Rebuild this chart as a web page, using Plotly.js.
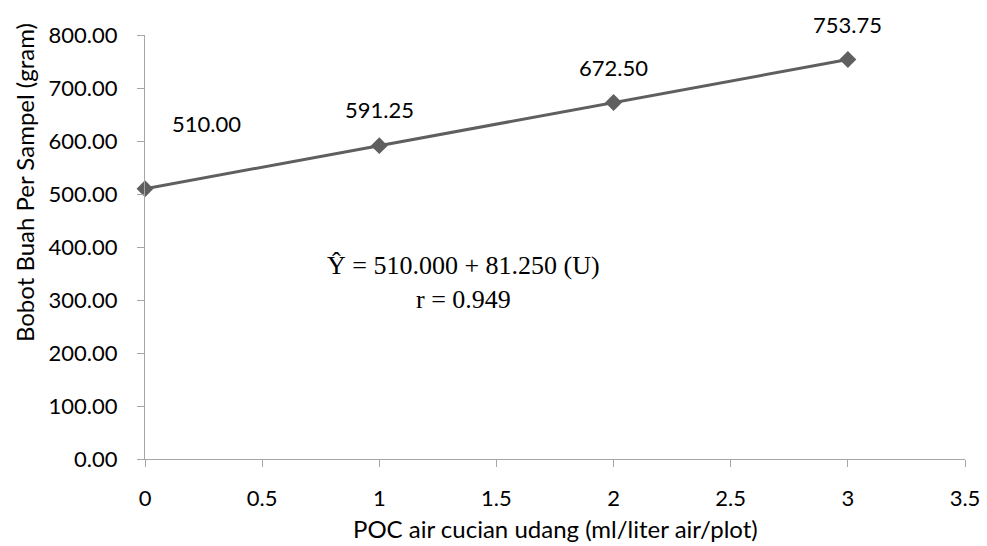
<!DOCTYPE html>
<html>
<head>
<meta charset="utf-8">
<script src="https://cdn.plot.ly/plotly-3.0.1.min.js"></script>
<style>html,body{margin:0;padding:0;background:#fff;}#chart{width:987px;height:546px;}</style>
</head>
<body>
<div id="chart"></div>
<script>
const doses = [0, 1, 2, 3];
const weights = [510.00, 591.25, 672.50, 753.75];
const pointLabels = ["510.00", "591.25", "672.50", "753.75"];
const labelShifts = [[61, 65], [0, 36], [0, 35], [0, 35]];
const equationLines = ["Ŷ = 510.000 + 81.250 (U)", "r = 0.949"];
const xTitle = "POC air cucian udang (ml/liter air/plot)";
const yTitle = "Bobot Buah Per Sampel (gram)";
const xTicks = [0, 0.5, 1, 1.5, 2, 2.5, 3, 3.5];
const xTickText = ["0", "0.5", "1", "1.5", "2", "2.5", "3", "3.5"];
const yTicks = [0, 100, 200, 300, 400, 500, 600, 700, 800];
const yTickText = yTicks.map(v => v.toFixed(2));

const sansFont = "Lato, 'Open Sans', sans-serif";
const serifFont = "'Liberation Serif', 'Times New Roman', serif";
const trace = {
  x: doses, y: weights, type: "scatter", mode: "lines+markers",
  line: {color: "#5f5f5f", width: 3},
  marker: {symbol: "diamond", size: 13, color: "#5f5f5f"},
  hoverinfo: "skip", showlegend: false, cliponaxis: false
};

const annotations = pointLabels.map((t, i) => ({
  x: doses[i], y: weights[i], xref: "x", yref: "y", text: t, showarrow: false,
  xshift: labelShifts[i][0], yshift: labelShifts[i][1],
  font: {family: sansFont, size: 22, color: "#000"}
}));
annotations.push({
  xref: "paper", yref: "paper", x: 0.389, y: 0.4575, text: equationLines[0],
  showarrow: false, font: {family: serifFont, size: 26, color: "#000"}
});
annotations.push({
  xref: "paper", yref: "paper", x: 0.389, y: 0.377, text: equationLines[1],
  showarrow: false, font: {family: serifFont, size: 26, color: "#000"}
});
annotations.push({
  xref: "paper", yref: "paper", x: 0.5, y: -0.163, yanchor: "middle", text: xTitle,
  showarrow: false, font: {family: sansFont, size: 24, color: "#000"}
});
annotations.push({
  xref: "paper", yref: "paper", x: -0.1476, y: 0.653, xanchor: "center", yanchor: "middle",
  textangle: -90, text: yTitle,
  showarrow: false, font: {family: sansFont, size: 24, color: "#000"}
});

const layout = {
  width: 987, height: 546,
  margin: {l: 145, r: 22, t: 35, b: 87},
  paper_bgcolor: "#fff", plot_bgcolor: "#fff",
  font: {family: sansFont, color: "#000"},
  xaxis: {
    range: [0, 3.5], tickvals: xTicks, ticktext: xTickText,
    showgrid: false, zeroline: false, showline: true, linecolor: "#a6a6a6", linewidth: 1,
    ticks: "outside", ticklen: 7, tickcolor: "#a6a6a6", ticklabelstandoff: 13,
    tickfont: {family: sansFont, size: 22, color: "#000"}
  },
  yaxis: {
    range: [0, 800], tickvals: yTicks, ticktext: yTickText,
    showgrid: false, zeroline: false, showline: true, linecolor: "#a6a6a6", linewidth: 1,
    ticks: "outside", ticklen: 7, tickcolor: "#a6a6a6", ticklabelstandoff: 15,
    tickfont: {family: sansFont, size: 22, color: "#000"}
  },
  annotations: annotations
};

Plotly.newPlot("chart", [trace], layout, {displayModeBar: false, staticPlot: true});
</script>
</body>
</html>
